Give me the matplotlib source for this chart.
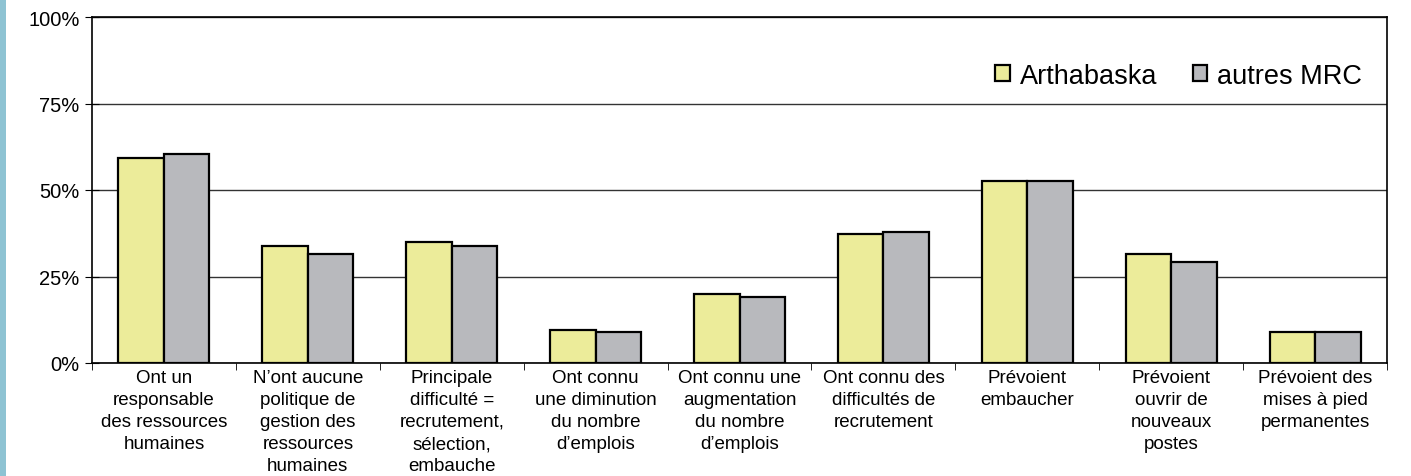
import numpy as np
import matplotlib

matplotlib.use("Agg")
import matplotlib.pyplot as plt
from matplotlib.patches import Rectangle

plt.rcParams["font.family"] = ["Liberation Sans", "DejaVu Sans"]

categories = [
    "Ont un\nresponsable\ndes ressources\nhumaines",
    "N’ont aucune\npolitique de\ngestion des\nressources\nhumaines",
    "Principale\ndifficulté =\nrecrutement,\nsélection,\nembauche",
    "Ont connu\nune diminution\ndu nombre\nd’emplois",
    "Ont connu une\naugmentation\ndu nombre\nd’emplois",
    "Ont connu des\ndifficultés de\nrecrutement",
    "Prévoient\nembaucher",
    "Prévoient\nouvrir de\nnouveaux\npostes",
    "Prévoient des\nmises à pied\npermanentes",
]
arthabaska = [59.2, 33.9, 35.1, 9.5, 20.0, 37.3, 52.6, 31.6, 9.1]
autres_mrc = [60.5, 31.6, 33.9, 9.0, 19.0, 37.9, 52.6, 29.3, 9.1]
yticks = [0, 25, 50, 75, 100]
ytick_labels = ["0%", "25%", "50%", "75%", "100%"]

YELLOW = "#ECEC9A"
GREY = "#B8B9BD"

fig = plt.figure(figsize=(14.11, 4.77), dpi=100)
ax = fig.add_axes([92 / 1411, 1 - 364 / 477, 1295 / 1411, 346 / 477])

# blue stripe on the left edge of the slide
fig.patches.append(Rectangle((0, 0), 6 / 1411, 1, transform=fig.transFigure,
                             facecolor="#8EC3D3", edgecolor="none"))

x = np.arange(len(categories))
w = 0.316
ax.bar(x - w / 2, arthabaska, w, color=YELLOW, edgecolor="black", lw=1.6,
       label="Arthabaska", zorder=3)
ax.bar(x + w / 2, autres_mrc, w, color=GREY, edgecolor="black", lw=1.6,
       label="autres MRC", zorder=3)

ax.set_xlim(-0.5, len(categories) - 0.5)
ax.set_ylim(0, 100)
ax.set_yticks(yticks)
ax.set_yticklabels(ytick_labels, fontsize=14.5)
ax.yaxis.grid(True, color="#333333", lw=1)
ax.set_axisbelow(True)

# category labels centred, ticks on the boundaries
ax.set_xticks(x)
ax.set_xticklabels(categories, fontsize=13.5, linespacing=1.4, va="top")
ax.tick_params(axis="x", which="major", length=0, pad=4)
ax.set_xticks(np.arange(len(categories) + 1) - 0.5, minor=True)
ax.tick_params(axis="x", which="minor", length=5, direction="out", color="black")
ax.tick_params(axis="y", length=10, direction="inout", pad=4, color="black")

for s in ax.spines.values():
    s.set_color("black")
    s.set_linewidth(1.2)

ax.legend(loc="center right", bbox_to_anchor=(0.991, 0.83), frameon=False,
          ncol=2, fontsize=19.5, handlelength=0.55, handleheight=0.55,
          handletextpad=0.35, columnspacing=1.3, borderpad=0)

fig.savefig("out.png", dpi=100)
